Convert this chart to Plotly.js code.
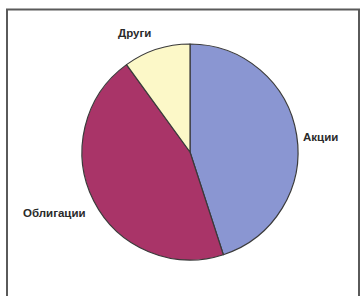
<!DOCTYPE html>
<html>
<head>
<meta charset="utf-8">
<script src="https://cdn.plot.ly/plotly-3.0.1.min.js"></script>
<style>html,body{margin:0;padding:0;background:#fff;}#chart{width:361px;height:296px;}</style>
</head>
<body>
<div id="chart"></div>
<script>
const labels = ["Акции", "Облигации", "Други"];
const values = [45, 45, 10];
const colors = ["#8A96D2", "#A93468", "#FCF8C8"];

const W = 361, H = 296;
const cx = 190, cy = 152, r = 108;

const labelPos = [
  {x: 301, y: 137, xanchor: "left"},
  {x: 88, y: 213, xanchor: "right"},
  {x: 134, y: 33, xanchor: "center"}
];

const trace = {
  type: "pie",
  labels: labels,
  values: values,
  marker: {colors: colors, line: {color: "#3a3a3a", width: 1.2}},
  sort: false,
  direction: "clockwise",
  rotation: 0,
  textinfo: "none",
  hoverinfo: "label+value",
  domain: {x: [(cx - r) / W, (cx + r) / W], y: [(H - cy - r) / H, (H - cy + r) / H]}
};

const annotations = labels.map((t, i) => ({
  text: t,
  xref: "paper", yref: "paper",
  x: labelPos[i].x / W, y: 1 - labelPos[i].y / H,
  xanchor: labelPos[i].xanchor, yanchor: "middle",
  showarrow: false,
  font: {family: "Liberation Sans, Arial, sans-serif", size: 11.5, weight: "bold", color: "#2a2a2a"}
}));

const layout = {
  width: W, height: H,
  margin: {l: 0, r: 0, t: 0, b: 0},
  paper_bgcolor: "#ffffff",
  showlegend: false,
  annotations: annotations,
  shapes: [{
    type: "rect", xref: "paper", yref: "paper",
    x0: 7 / W, x1: 359 / W, y0: -0.05, y1: 1 - 9.5 / H,
    line: {color: "#5a5a5a", width: 2}
  }]
};

Plotly.newPlot("chart", [trace], layout, {displayModeBar: false, staticPlot: true});
</script>
</body>
</html>
